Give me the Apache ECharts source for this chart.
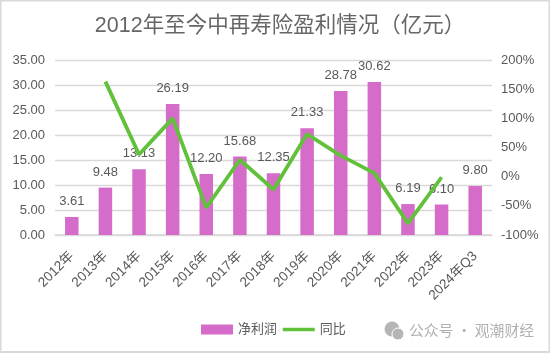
<!DOCTYPE html>
<html>
<head>
<meta charset="utf-8">
<style>
html, body { margin: 0; padding: 0; background: #fff; }
#main { width: 550px; height: 353px; }
</style>
<script src="https://cdn.jsdelivr.net/npm/echarts@6/dist/echarts.min.js"></script>
</head>
<body>
<div id="main"></div>
<script>
var categories = ["2012年", "2013年", "2014年", "2015年", "2016年", "2017年", "2018年", "2019年", "2020年", "2021年", "2022年", "2023年", "2024年Q3"];
var profit = [3.61, 9.48, 13.13, 26.19, 12.2, 15.68, 12.35, 21.33, 28.78, 30.62, 6.19, 6.1, 9.8];
// 同比，单位 %，2012年和2024年Q3没有线
var yoy = [null, 163, 38, 100, -53, 29, -22, 73, 36, 6, -80, -1, null];

var textFont = '"Liberation Sans", "Noto Sans CJK SC", sans-serif';
var textColor = "#595959";

var myChart = echarts.init(document.getElementById("main"));
var option = {
  animation: false,
  textStyle: { fontFamily: textFont },
  title: {
    text: "2012年至今中再寿险盈利情况（亿元）",
    left: 275,
    top: 10,
    textAlign: "center",
    textStyle: {
      color: "#666666",
      fontFamily: textFont,
      fontSize: 21.5,
      fontWeight: "normal"
    }
  },
  legend: {
    left: 196,
    top: 318,
    itemGap: 4,
    itemWidth: 32,
    itemHeight: 10,
    textStyle: { color: textColor, fontSize: 13, fontFamily: textFont },
    data: [
      { name: "净利润", icon: "rect" },
      { name: "同比", itemStyle: { opacity: 0 }, lineStyle: { color: "#62c13a", width: 3.5 } }
    ]
  },
  grid: { left: 55, right: 58, top: 60, bottom: 118 },
  xAxis: {
    type: "category",
    data: categories,
    axisTick: { show: false },
    axisLine: { lineStyle: { color: "#d9d9d9", width: 1.5 } },
    axisLabel: {
      color: textColor,
      fontSize: 13.6,
      rotate: 45,
      interval: 0,
      margin: 19
    }
  },
  yAxis: [
    {
      type: "value",
      min: 0,
      max: 35,
      interval: 5,
      axisLine: { show: false },
      axisTick: { show: false },
      splitLine: { lineStyle: { color: "#d9d9d9", width: 1.3 } },
      axisLabel: {
        color: textColor,
        fontSize: 13,
        margin: 10,
        formatter: function (v) { return v.toFixed(2); }
      }
    },
    {
      type: "value",
      min: -100,
      max: 200,
      interval: 50,
      axisLine: { show: false },
      axisTick: { show: false },
      splitLine: { show: false },
      axisLabel: {
        color: textColor,
        fontSize: 13,
        margin: 9,
        formatter: "{value}%"
      }
    }
  ],
  series: [
    {
      name: "净利润",
      type: "bar",
      data: profit,
      barWidth: 13.5,
      itemStyle: { color: "#d66cc9" },
      label: {
        show: true,
        position: "top",
        distance: 9,
        color: textColor,
        fontSize: 13,
        formatter: function (p) { return p.value.toFixed(2); }
      }
    },
    {
      name: "同比",
      type: "line",
      yAxisIndex: 1,
      data: yoy,
      symbol: "none",
      lineStyle: { color: "#62c13a", width: 3.8 },
      itemStyle: { color: "#62c13a" }
    }
  ],
  graphic: [
    {
      type: "rect",
      silent: true,
      shape: { x: 0.5, y: 0.5, width: 549, height: 351.5 },
      style: { fill: "none", stroke: "#d9d9d9", lineWidth: 2 }
    },
    // 水印的微信图标
    { type: "circle", silent: true, shape: { cx: 392, cy: 329, r: 7.5 }, style: { fill: "#b5b5b5" } },
    { type: "circle", silent: true, shape: { cx: 398, cy: 334, r: 6 }, style: { fill: "#b5b5b5", stroke: "#fff", lineWidth: 1 } },
    {
      type: "text",
      silent: true,
      left: 409,
      top: 323,
      style: {
        text: "公众号 · 观潮财经",
        fill: "#b0b0b0",
        font: '14.8px "Noto Sans CJK SC", sans-serif'
      }
    }
  ]
};
myChart.setOption(option);
</script>
</body>
</html>
